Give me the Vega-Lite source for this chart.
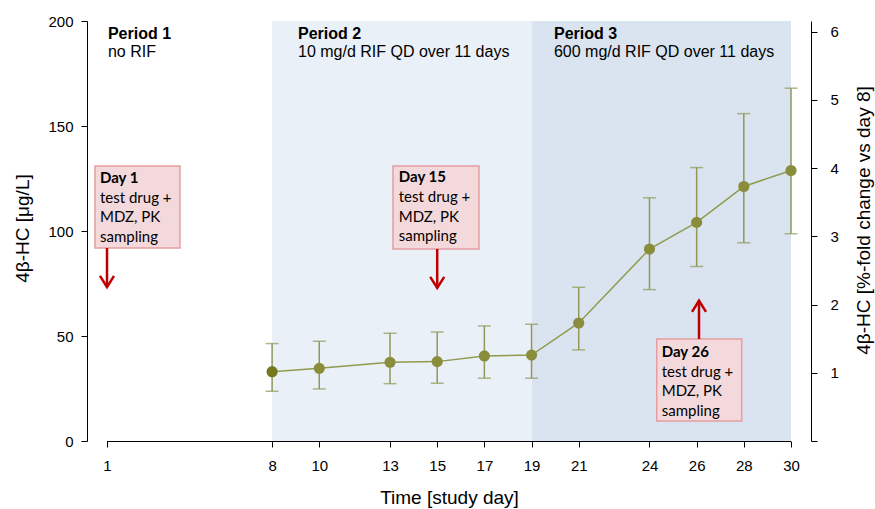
{
  "$schema": "https://vega.github.io/schema/vega-lite/v6.json",
  "width": 724,
  "height": 420,
  "autosize": {"type": "none"},
  "padding": {"left": 87, "top": 21, "right": 64, "bottom": 68},
  "background": "white",
  "datasets": {
    "series": [
      {"day": 8, "mean": 33.0, "lo": 23.7, "hi": 46.4},
      {"day": 10, "mean": 34.6, "lo": 24.8, "hi": 47.5},
      {"day": 13, "mean": 37.5, "lo": 27.3, "hi": 51.3},
      {"day": 15, "mean": 37.8, "lo": 27.5, "hi": 51.9},
      {"day": 17, "mean": 40.5, "lo": 29.9, "hi": 54.8},
      {"day": 19, "mean": 40.9, "lo": 29.9, "hi": 55.6},
      {"day": 21, "mean": 56.2, "lo": 43.4, "hi": 73.2},
      {"day": 24, "mean": 91.4, "lo": 72.1, "hi": 115.8},
      {"day": 26, "mean": 104.1, "lo": 83.1, "hi": 130.2},
      {"day": 28, "mean": 121.2, "lo": 94.4, "hi": 155.9},
      {"day": 30, "mean": 128.8, "lo": 98.7, "hi": 168.0}
    ],
    "periods": [
      {"period": "Period 2", "start": 8, "end": 19},
      {"period": "Period 3", "start": 19, "end": 30}
    ],
    "periodLabels": [
      {"day": 1.04, "title": "Period 1", "sub": "no RIF"},
      {"day": 9.1, "title": "Period 2", "sub": "10 mg/d RIF QD over 11 days"},
      {"day": 19.95, "title": "Period 3", "sub": "600 mg/d RIF QD over 11 days"}
    ],
    "notes": [
      {"label": "Day 1", "x0": 0.491, "x1": 4.095, "ytop": 130.95, "ybot": 91.9, "tx": 0.703, "ty": 123.0, "ly": 113.5, "lines": ["test drug +", "MDZ, PK", "sampling"], "ax": 1, "astart": 91.9, "atip": 73.3, "dir": "down"},
      {"label": "Day 15", "x0": 13.126, "x1": 16.77, "ytop": 130.95, "ybot": 91.43, "tx": 13.37, "ty": 123.3, "ly": 113.8, "lines": ["test drug +", "MDZ, PK", "sampling"], "ax": 15, "astart": 91.43, "atip": 72.86, "dir": "down"},
      {"label": "Day 26", "x0": 24.306, "x1": 27.91, "ytop": 48.57, "ybot": 9.52, "tx": 24.518, "ty": 40.14, "ly": 30.62, "lines": ["test drug +", "MDZ, PK", "sampling"], "ax": 26.1, "astart": 48.57, "atip": 66.8, "dir": "up"}
    ]
  },
  "layer": [
    {
      "layer": [
        {
          "data": {"name": "periods"},
          "mark": {"type": "rect"},
          "encoding": {
            "x": {
              "field": "start", "type": "quantitative",
              "scale": {"domain": [0.152, 30.848], "nice": false, "zero": false},
              "axis": {
                "title": "Time [study day]",
                "values": [1, 8, 10, 13, 15, 17, 19, 21, 24, 26, 28, 30],
                "domain": false,
                "tickSize": 6,
                "labelPadding": 23,
                "labelBaseline": "alphabetic",
                "labelFlush": false,
                "labelOverlap": false,
                "titleBaseline": "alphabetic",
                "titleY": 62.5
              }
            },
            "x2": {"field": "end"},
            "y": {
              "datum": 0, "type": "quantitative",
              "scale": {"domain": [0, 200], "nice": false, "zero": true},
              "axis": {
                "title": "4β-HC [μg/L]",
                "values": [0, 50, 100, 150, 200],
                "tickSize": 6,
                "labelPadding": 8,
                "labelFlush": false,
                "labelOverlap": false,
                "titleAngle": 270,
                "titleAlign": "center",
                "titleBaseline": "alphabetic",
                "titleX": -59,
                "titleY": 207
              }
            },
            "y2": {"datum": 200},
            "color": {
              "field": "period", "type": "nominal",
              "scale": {"domain": ["Period 2", "Period 3"], "range": ["#EAF0F8", "#DAE4F1"]},
              "legend": null
            }
          }
        },
        {
          "data": {"values": [{"a": 1, "b": 30}]},
          "mark": {"type": "rule", "color": "black", "strokeWidth": 1, "yOffset": 0.5},
          "encoding": {
            "x": {"field": "a", "type": "quantitative"},
            "x2": {"field": "b"},
            "y": {"datum": 0, "type": "quantitative"}
          }
        },
        {
          "data": {"name": "series"},
          "mark": {"type": "rule", "color": "#8F9858", "strokeWidth": 1.5},
          "encoding": {
            "x": {"field": "day", "type": "quantitative"},
            "y": {"field": "lo", "type": "quantitative"},
            "y2": {"field": "hi"}
          }
        },
        {
          "data": {"name": "series"},
          "mark": {"type": "tick", "orient": "horizontal", "color": "#8F9858", "size": 13, "thickness": 1.5},
          "encoding": {
            "x": {"field": "day", "type": "quantitative"},
            "y": {"field": "lo", "type": "quantitative"}
          }
        },
        {
          "data": {"name": "series"},
          "mark": {"type": "tick", "orient": "horizontal", "color": "#8F9858", "size": 13, "thickness": 1.5},
          "encoding": {
            "x": {"field": "day", "type": "quantitative"},
            "y": {"field": "hi", "type": "quantitative"}
          }
        },
        {
          "data": {"name": "series"},
          "mark": {"type": "line", "color": "#8F9A4C", "strokeWidth": 1.5},
          "encoding": {
            "x": {"field": "day", "type": "quantitative"},
            "y": {"field": "mean", "type": "quantitative"}
          }
        },
        {
          "data": {"name": "series"},
          "mark": {"type": "circle", "size": 125, "opacity": 1},
          "encoding": {
            "x": {"field": "day", "type": "quantitative"},
            "y": {"field": "mean", "type": "quantitative"},
            "color": {"condition": {"test": "datum.day == 8", "value": "#76781E"}, "value": "#8A8D3B"}
          }
        },
        {
          "data": {"name": "notes"},
          "mark": {"type": "rect", "fill": "#F3D9DC", "stroke": "#E69DA1", "strokeWidth": 1.5},
          "encoding": {
            "x": {"field": "x0", "type": "quantitative"},
            "x2": {"field": "x1"},
            "y": {"field": "ytop", "type": "quantitative"},
            "y2": {"field": "ybot"}
          }
        },
        {
          "data": {"name": "notes"},
          "mark": {"type": "text", "align": "left", "baseline": "alphabetic", "font": "Lato", "fontSize": 15, "fontWeight": "bold", "color": "black"},
          "encoding": {
            "x": {"field": "tx", "type": "quantitative"},
            "y": {"field": "ty", "type": "quantitative"},
            "text": {"field": "label", "type": "nominal"}
          }
        },
        {
          "data": {"name": "notes"},
          "mark": {"type": "text", "align": "left", "baseline": "alphabetic", "font": "Lato", "fontSize": 15, "lineHeight": 19.7, "color": "black"},
          "encoding": {
            "x": {"field": "tx", "type": "quantitative"},
            "y": {"field": "ly", "type": "quantitative"},
            "text": {"field": "lines", "type": "nominal"}
          }
        },
        {
          "data": {"name": "notes"},
          "mark": {"type": "rule", "color": "#C00000", "strokeWidth": 2.5},
          "encoding": {
            "x": {"field": "ax", "type": "quantitative"},
            "y": {"field": "astart", "type": "quantitative"},
            "y2": {"field": "atip"}
          }
        },
        {
          "data": {"name": "notes"},
          "mark": {"type": "point", "filled": false, "color": "#C00000", "strokeWidth": 2.5, "size": 196, "opacity": 1},
          "encoding": {
            "x": {"field": "ax", "type": "quantitative"},
            "y": {"field": "atip", "type": "quantitative"},
            "shape": {
              "field": "dir", "type": "nominal",
              "scale": {"domain": ["down", "up"], "range": ["M -1 -1.6 L 0 0 L 1 -1.6", "M -1 1.6 L 0 0 L 1 1.6"]},
              "legend": null
            }
          }
        },
        {
          "data": {"name": "periodLabels"},
          "mark": {"type": "text", "align": "left", "baseline": "alphabetic", "font": "Liberation Sans", "fontSize": 16, "fontWeight": "bold", "color": "black"},
          "encoding": {
            "x": {"field": "day", "type": "quantitative"},
            "y": {"datum": 191.3, "type": "quantitative"},
            "text": {"field": "title", "type": "nominal"}
          }
        },
        {
          "data": {"name": "periodLabels"},
          "mark": {"type": "text", "align": "left", "baseline": "alphabetic", "font": "Liberation Sans", "fontSize": 16, "color": "black"},
          "encoding": {
            "x": {"field": "day", "type": "quantitative"},
            "y": {"datum": 182.7, "type": "quantitative"},
            "text": {"field": "sub", "type": "nominal"}
          }
        }
      ]
    },
    {
      "data": {"values": [{"fold": 0}]},
      "mark": {"type": "point", "opacity": 0},
      "encoding": {
        "y": {
          "field": "fold", "type": "quantitative",
          "scale": {"domain": [0, 6.157], "nice": false, "zero": true},
          "axis": {
            "orient": "right",
            "title": "4β-HC [%-fold change vs day 8]",
            "values": [0, 1, 2, 3, 4, 5, 6],
            "labelExpr": "datum.value == 0 ? '' : datum.label",
            "tickSize": 6,
            "labelPadding": 13,
            "labelAlign": "left",
            "labelFlush": false,
            "labelOverlap": false,
            "titleAngle": 270,
            "titleAlign": "center",
            "titleBaseline": "alphabetic",
            "titleX": 58,
            "titleY": 199
          }
        }
      }
    }
  ],
  "resolve": {"scale": {"y": "independent"}, "axis": {"y": "independent"}},
  "config": {
    "view": {"stroke": null},
    "axis": {
      "grid": false,
      "domainColor": "black",
      "tickColor": "black",
      "labelColor": "black",
      "titleColor": "black",
      "labelFont": "Liberation Sans",
      "titleFont": "Liberation Sans",
      "labelFontSize": 15,
      "titleFontSize": 19,
      "titleFontWeight": "normal",
      "domainWidth": 1,
      "tickWidth": 1
    }
  }
}
